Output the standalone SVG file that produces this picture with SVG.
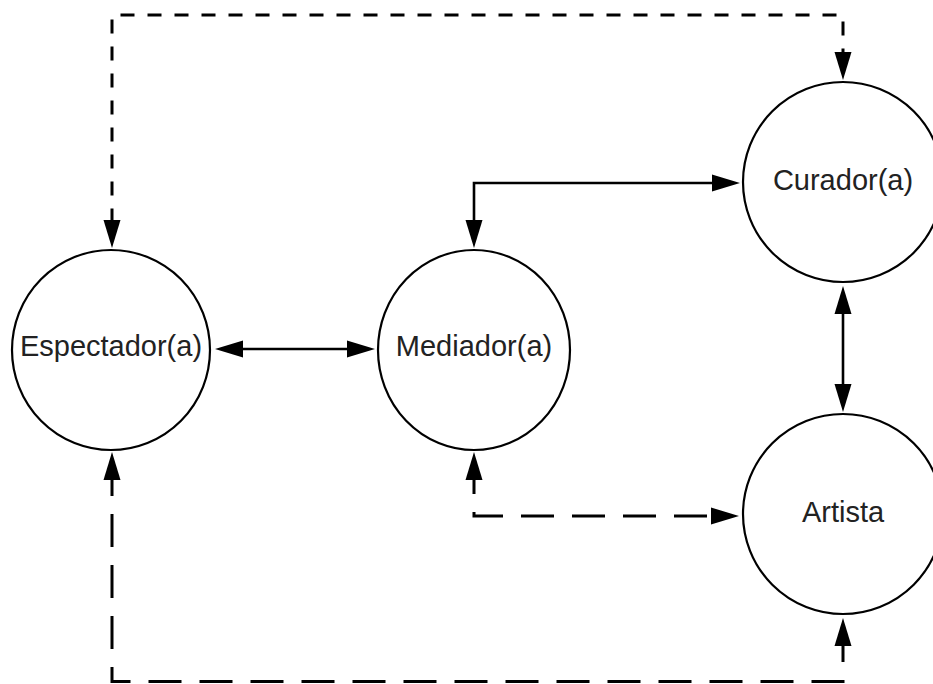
<svg xmlns="http://www.w3.org/2000/svg" width="933" height="684" viewBox="0 0 933 684">
  <style>
    .node { fill: #ffffff; stroke: #000000; stroke-width: 2.2; }
    .label { font-family: "Liberation Sans", Arial, sans-serif; font-size: 29px; fill: #222222; text-anchor: middle; }
    .solid { fill: none; stroke: #000000; stroke-width: 2.6; }
    .dashA { fill: none; stroke: #000000; stroke-width: 3; stroke-dasharray: 14 13; }
    .dashB { fill: none; stroke: #000000; stroke-width: 3; stroke-dasharray: 33 18; }
  </style>
  <defs>
    <marker id="arrow" markerUnits="userSpaceOnUse" markerWidth="30" markerHeight="20" viewBox="0 -10 30 20" refX="0" refY="0" orient="auto-start-reverse">
      <path d="M0,-8.5 L28,0 L0,8.5 Z" fill="#000000"/>
    </marker>
  </defs>
  <rect width="933" height="684" fill="#ffffff"/>

  <g id="connectors">
    <line class="solid" x1="243" y1="349" x2="347" y2="349" marker-start="url(#arrow)" marker-end="url(#arrow)"/>
    <path class="solid" d="M474,220 L474,183 L712,183" marker-start="url(#arrow)" marker-end="url(#arrow)"/>
    <line class="solid" x1="843" y1="314" x2="843" y2="384" marker-start="url(#arrow)" marker-end="url(#arrow)"/>
    <path class="dashA" stroke-dashoffset="2.5" d="M112,220 L112,15 L843,15 L843,52" marker-start="url(#arrow)" marker-end="url(#arrow)"/>
    <path class="dashB" stroke-dasharray="37 18" stroke-dashoffset="19" d="M474,480 L474,516 L711,516" marker-start="url(#arrow)" marker-end="url(#arrow)"/>
    <path class="dashB" stroke-dashoffset="17" d="M112,480 L112,681.5 L843,681.5 L843,646" marker-start="url(#arrow)" marker-end="url(#arrow)"/>
  </g>

  <g id="espectador">
    <ellipse class="node" cx="111" cy="350" rx="99" ry="100"/>
    <text class="label" x="111" y="356">Espectador(a)</text>
  </g>
  <g id="mediador">
    <ellipse class="node" cx="474" cy="350" rx="96" ry="100"/>
    <text class="label" x="474" y="356">Mediador(a)</text>
  </g>
  <g id="curador">
    <circle class="node" cx="843" cy="182" r="100"/>
    <text class="label" x="843" y="190">Curador(a)</text>
  </g>
  <g id="artista">
    <circle class="node" cx="843" cy="514" r="100"/>
    <text class="label" x="843" y="522">Artista</text>
  </g>
</svg>
